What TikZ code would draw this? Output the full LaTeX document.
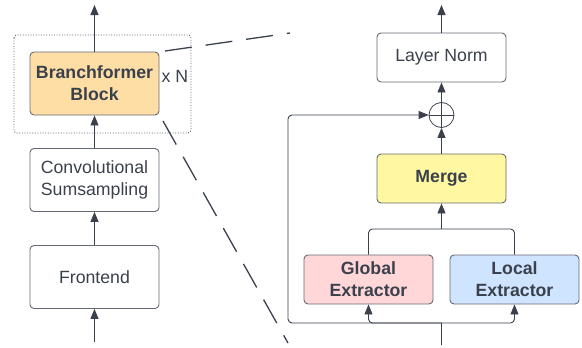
\documentclass[tikz,border=0pt]{standalone}
\usepackage{fontspec}
\setmainfont{Liberation Sans}
\usetikzlibrary{arrows.meta}

\definecolor{ink}{HTML}{3A414C}
\definecolor{boxline}{HTML}{646A73}
\definecolor{orangefill}{HTML}{FFDEA6}
\definecolor{yellowfill}{HTML}{FFF7A1}
\definecolor{pinkfill}{HTML}{FFD7D9}
\definecolor{bluefill}{HTML}{CFE4FF}

\tikzset{
  blk/.style={draw=boxline, line width=0.9pt, rounded corners=4pt,
    minimum width=129pt, inner sep=0pt, align=center, text=ink,
    font=\fontsize{17.7}{21.7}\selectfont},
  tall/.style={minimum height=63pt},
  short/.style={minimum height=49pt},
  bold/.style={font=\fontsize{17.7}{21.7}\selectfont\bfseries},
  wire/.style={draw=ink, line width=0.9pt},
  arr/.style={wire, -{Triangle[width=8pt,length=10pt]}},
  zoomline/.style={draw=ink, line width=1.3pt, dash pattern=on 27pt off 14pt},
}

\begin{document}
\begin{tikzpicture}[x=1pt,y=-1pt]
\useasboundingbox (0,0) rectangle (582,348);

% ---- encoder stack ----
\draw[ink!80, line width=0.9pt, dash pattern=on 1pt off 1.6pt, rounded corners=3pt] (14,35) rectangle (191,133);
\node[blk, tall, bold, fill=orangefill] (branch) at (94.5,83.5) {Branchformer\\Block};
\node[text=ink, font=\fontsize{17.7}{21.7}\selectfont, inner sep=0pt] (xn) at (175,76) {x N};
\node[blk, tall] (conv) at (94.5,180) {Convolutional\\Sumsampling};
\node[blk, tall] (front) at (94.5,277) {Frontend};

\coordinate (outL) at (94.5,5);
\coordinate (inL) at (94.5,342);
\draw[arr] (inL) -- (front.south);
\draw[arr] (front.north) -- (conv.south);
\draw[arr] (conv.north) -- (branch.south);
\draw[arr] (branch.north) -- (outL);

% ---- zoom guides ----
\coordinate (za) at (165,51);
\coordinate (zb) at (290,33);
\coordinate (zc) at (163,121);
\coordinate (zd) at (288,343);
\draw[zoomline] (za) -- (zb);
\draw[zoomline] (zc) -- (zd);

% ---- block internals ----
\node[blk, short] (ln) at (441.5,57.5) {Layer Norm};
\node[draw=ink, line width=0.8pt, circle, minimum size=25pt, inner sep=0pt] (plus) at (441.5,115) {};
\draw[ink, line width=0.8pt] (plus.north) -- (plus.south) (plus.west) -- (plus.east);
\node[blk, short, bold, fill=yellowfill] (merge) at (441.5,178.5) {Merge};
\node[blk, short, bold, fill=pinkfill] (global) at (368.5,279.5) {Global\\Extractor};
\node[blk, short, bold, fill=bluefill] (local) at (514.5,279.5) {Local\\Extractor};

\coordinate (outR) at (441.5,5);
\coordinate (mj) at (441.5,229);
\coordinate (inR) at (441.5,345);
\coordinate (split) at (441.5,323);
\coordinate (c1) at (288,323);
\coordinate (c2) at (288,115);

\draw[arr] (ln.north) -- (outR);
\draw[arr] (plus.north) -- (ln.south);
\draw[arr] (merge.north) -- (plus.south);
\draw[wire, rounded corners=4pt] (global.north) |- (mj);
\draw[wire, rounded corners=4pt] (local.north) |- (mj);
\draw[arr] (mj) -- (merge.south);

\draw[wire] (inR) -- (split);
\draw[arr, rounded corners=4pt] (split) -| (global.south);
\draw[arr, rounded corners=4pt] (split) -| (local.south);
\draw[arr, rounded corners=4pt] (split) -- (c1) -- (c2) -- (plus.west);
\end{tikzpicture}
\end{document}
